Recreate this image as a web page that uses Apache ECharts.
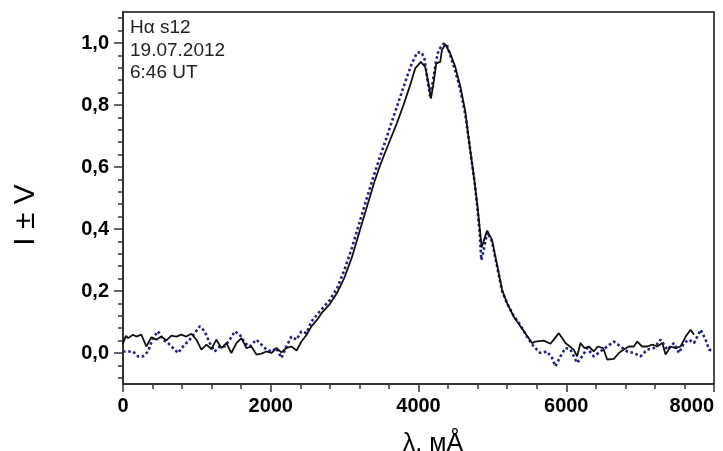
<!DOCTYPE html>
<html><head><meta charset="utf-8">
<script src="https://cdn.jsdelivr.net/npm/echarts@6/dist/echarts.min.js"></script>
<style>html,body{margin:0;padding:0;background:#fff}#c{width:723px;height:451px}</style>
</head><body><div id="c"></div>
<script>
// Black solid curve (wavelength mÅ, I±V)
const blackX = [0,40,68,135,180,248,316,384,451,519,587,654,722,790,857,925,993,1061,1129,1196,1264,1332,1400,1467,1535,1603,1671,1738,1806,1874,1941,2009,2077,2144,2212,2280,2350,2415,2483,2551,2620,2700,2800,2900,3000,3100,3200,3300,3400,3480,3525,3616,3707,3797,3887,3955,4032,4091,4136,4168,4203,4240,4294,4317,4362,4430,4498,4566,4633,4680,4720,4760,4800,4830,4855,4880,4930,4995,5063,5131,5199,5288,5379,5470,5538,5582,5695,5786,5831,5900,5989,6102,6147,6192,6246,6305,6373,6427,6499,6554,6644,6712,6780,6848,6915,6961,7028,7096,7164,7232,7300,7345,7413,7481,7548,7616,7684,7729];
const blackY = [0.032,0.055,0.048,0.059,0.053,0.059,0.021,0.051,0.043,0.053,0.041,0.056,0.053,0.059,0.053,0.062,0.043,0.011,0.027,0.013,0.043,0.016,0.032,0.0,0.032,0.048,0.016,0.021,-0.005,-0.002,0.005,0.0,0.016,0.002,0.016,0.021,0.008,0.037,0.058,0.086,0.105,0.132,0.158,0.195,0.245,0.31,0.39,0.47,0.55,0.605,0.633,0.687,0.741,0.80,0.864,0.918,0.939,0.923,0.869,0.821,0.869,0.934,0.939,0.977,0.996,0.966,0.923,0.86,0.78,0.69,0.62,0.55,0.47,0.40,0.34,0.36,0.395,0.365,0.285,0.204,0.161,0.118,0.086,0.055,0.032,0.037,0.040,0.030,0.043,0.064,0.032,0.011,-0.011,0.032,0.016,0.021,0.005,0.021,0.016,-0.021,-0.019,0.0,0.011,0.021,0.021,0.037,0.021,0.021,0.027,0.021,0.032,-0.005,0.021,0.016,0.021,0.053,0.075,0.059];
// Blue dotted curve
const blueX = [0,135,203,271,339,406,474,542,610,677,745,813,903,971,1038,1106,1174,1242,1309,1377,1445,1513,1580,1648,1716,1806,1874,1941,2009,2077,2145,2212,2280,2348,2415,2483,2551,2664,2799,2900,3000,3100,3200,3300,3390,3480,3571,3661,3752,3842,3910,3978,4032,4077,4122,4159,4203,4240,4272,4340,4385,4430,4498,4566,4633,4680,4720,4760,4800,4830,4850,4880,4930,4995,5063,5131,5199,5288,5379,5469,5559,5650,5740,5808,5853,5921,5989,6057,6147,6215,6283,6373,6463,6554,6644,6735,6825,6915,7006,7096,7187,7277,7367,7458,7526,7593,7661,7729,7819,7887,7932,8000];
const blueY = [0.005,0.005,-0.011,-0.011,0.005,0.048,0.070,0.043,0.032,0.016,0.0,0.021,0.043,0.064,0.086,0.070,0.032,0.005,0.021,0.021,0.043,0.070,0.059,0.032,0.021,0.043,0.027,0.011,0.005,0.016,-0.016,0.021,0.053,0.043,0.070,0.064,0.102,0.134,0.171,0.21,0.27,0.34,0.42,0.50,0.569,0.633,0.697,0.762,0.826,0.890,0.934,0.968,0.971,0.955,0.880,0.826,0.890,0.944,0.977,0.998,0.993,0.96,0.91,0.85,0.77,0.69,0.62,0.55,0.46,0.38,0.30,0.33,0.39,0.36,0.28,0.20,0.16,0.12,0.09,0.053,0.021,0.0,0.005,-0.016,-0.043,-0.011,0.016,0.011,-0.032,-0.011,0.016,-0.011,0.005,0.021,0.037,0.021,0.005,0.0,-0.011,0.011,0.016,0.043,0.011,0.032,0.0,0.032,0.043,0.032,0.075,0.043,0.011,0.005];
// Axis ticks
const yMajorTicks = [0,0.2,0.4,0.6,0.8,1.0];
const yMinorTicks = [-0.08,-0.04,0.04,0.08,0.12,0.16,0.24,0.28,0.32,0.36,0.44,0.48,0.52,0.56,0.64,0.68,0.72,0.76,0.84,0.88,0.92,0.96,1.04,1.08];
const infoLines = ['H\u03b1 s12','19.07.2012','6:46 UT'];
const yAxisTitle = 'I \u00b1 V';
const xAxisTitle = '\u03bb, \u043c\u00c5';

const F = "'Liberation Sans', Arial, sans-serif";
const zip = (xs, ys) => xs.map((x, i) => [x, ys[i]]);
const chart = echarts.init(document.getElementById('c'));
const yCommon = {
  type: 'value', min: -0.1, max: 1.1, position: 'left',
  splitLine: {show: false},
  axisLine: {show: true, lineStyle: {color: '#333', width: 2}}
};
chart.setOption({
  animation: false,
  grid: {left: 123, right: 9, top: 12, bottom: 67, show: true, borderColor: '#111', borderWidth: 1.5, backgroundColor: '#fff'},
  xAxis: {
    type: 'value', min: 0, max: 8000, interval: 2000,
    splitLine: {show: false},
    axisLine: {show: true, onZero: false, lineStyle: {color: '#333', width: 2}},
    axisTick: {show: true, length: 8, lineStyle: {color: '#333', width: 1.5}},
    minorTick: {show: true, splitNumber: 5, length: 5, lineStyle: {color: '#333', width: 1.5}},
    axisLabel: {color: '#000', fontFamily: F, fontWeight: 'bold', fontSize: 20, margin: 12, alignMaxLabel: 'right',
      formatter: v => String(v)}
  },
  yAxis: [
    Object.assign({}, yCommon, {
      axisTick: {show: true, length: 9, customValues: yMajorTicks, lineStyle: {color: '#333', width: 1.5}},
      axisLabel: {show: true, customValues: yMajorTicks, color: '#000', fontFamily: F, fontWeight: 'bold', fontSize: 20, margin: 14,
        formatter: v => v.toFixed(1).replace('.', ',')}
    }),
    Object.assign({}, yCommon, {
      axisTick: {show: true, length: 5, customValues: yMinorTicks, lineStyle: {color: '#333', width: 1.5}},
      axisLabel: {show: false}
    })
  ],
  series: [
    {type: 'line', data: zip(blueX, blueY), showSymbol: false, smooth: false,
      lineStyle: {color: '#1f1f8f', width: 2.6, type: [2.6, 2.6]}, z: 2},
    {type: 'line', data: zip(blackX, blackY), showSymbol: false, smooth: false,
      lineStyle: {color: '#111', width: 1.8}, z: 3}
  ],
  graphic: [
    {type: 'text', left: 130, top: 17, style: {text: infoLines.join('\n'), font: '19px ' + F, fill: '#222', lineHeight: 22.5}},
    {type: 'text', x: 26, y: 215, rotation: Math.PI / 2, style: {text: yAxisTitle, font: '30px ' + F, fill: '#000', align: 'center', verticalAlign: 'middle'}},
    {type: 'text', x: 433, y: 444, style: {text: xAxisTitle, font: '25px ' + F, fill: '#000', align: 'center', verticalAlign: 'middle'}}
  ]
});
</script></body></html>
